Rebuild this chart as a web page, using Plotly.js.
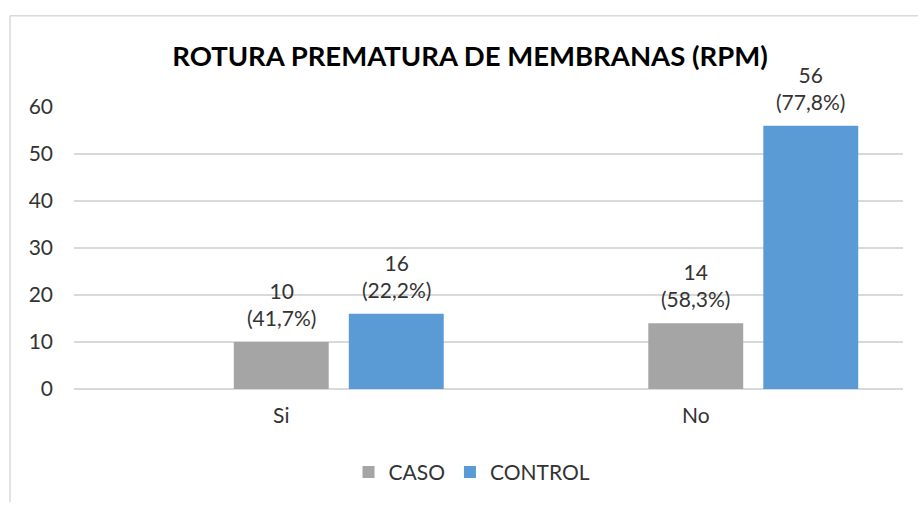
<!DOCTYPE html>
<html>
<head>
<meta charset="utf-8">
<script src="https://cdn.plot.ly/plotly-3.0.1.min.js"></script>
<style>html,body{margin:0;padding:0;background:#fff;}#chart{width:918px;height:505px;}</style>
</head>
<body>
<div id="chart"></div>
<script>
// Data
const categories = ['Si', 'No'];
const seriesNames = ['CASO', 'CONTROL'];
const casoValues = [10, 14];
const controlValues = [16, 56];
const casoPct = ['41,7%', '58,3%'];
const controlPct = ['22,2%', '77,8%'];
const yTicks = [0, 10, 20, 30, 40, 50, 60];

const FONT = 'Lato, "Open Sans", sans-serif';
const TXT = '#333333';
const barWidth = 0.229;
const casoCenter = 0.0;
const controlCenter = 0.2775;

const traces = [
  {type: 'bar', name: seriesNames[0], x: categories, y: casoValues,
   width: barWidth, offset: casoCenter - barWidth / 2,
   marker: {color: '#A5A5A5'}, hoverinfo: 'y'},
  {type: 'bar', name: seriesNames[1], x: categories, y: controlValues,
   width: barWidth, offset: controlCenter - barWidth / 2,
   marker: {color: '#5B9BD5'}, hoverinfo: 'y'}
];

const annotations = [];
[[casoValues, casoPct, casoCenter], [controlValues, controlPct, controlCenter]].forEach(([vals, pcts, c]) => {
  vals.forEach((v, i) => {
    annotations.push({
      x: i + c, y: v, xref: 'x', yref: 'y',
      text: v + '<br>(' + pcts[i] + ')',
      showarrow: false, yanchor: 'bottom', xanchor: 'center', yshift: 10,
      font: {family: FONT, size: 21, color: TXT}
    });
  });
});

const L = 74, R = 15, T = 107, B = 114, W = 918, H = 505;
const pw = W - L - R, ph = H - T - B;
const px2x = p => (p - L) / pw;
const py2y = p => (H - B - p) / ph;

const layout = {
  width: W, height: H,
  margin: {l: L, r: R, t: T, b: B, pad: 0},
  paper_bgcolor: '#ffffff', plot_bgcolor: '#ffffff',
  barmode: 'overlay',
  font: {family: FONT, size: 21, color: TXT},
  title: {
    text: '<b>ROTURA PREMATURA DE MEMBRANAS (RPM)</b>',
    font: {family: FONT, size: 27.5, color: '#000000'},
    xref: 'container', yref: 'container',
    x: 470 / W, y: 1 - 56 / H, xanchor: 'center', yanchor: 'middle'
  },
  xaxis: {
    type: 'category', range: [-0.5, 1.5],
    showgrid: false, zeroline: false, showline: false, ticks: '',
    ticklabelstandoff: 12,
    tickfont: {family: FONT, size: 21, color: TXT}
  },
  yaxis: {
    range: [0, 60], tickvals: yTicks,
    showgrid: true, gridcolor: '#D9D9D9', gridwidth: 1.5,
    zeroline: true, zerolinecolor: '#D9D9D9', zerolinewidth: 1.5,
    showline: false, ticks: '', ticklabelstandoff: 20,
    tickfont: {family: FONT, size: 21, color: TXT}
  },
  showlegend: true,
  legend: {
    orientation: 'h', x: px2x(472), y: py2y(475), xanchor: 'center', yanchor: 'middle',
    font: {family: FONT, size: 21, color: TXT}, itemwidth: 30, traceorder: 'normal'
  },
  annotations: annotations,
  shapes: [
    {type: 'line', xref: 'paper', yref: 'paper', x0: px2x(10), x1: px2x(918), y0: py2y(15), y1: py2y(15),
     line: {color: '#D9D9D9', width: 1.5}},
    {type: 'line', xref: 'paper', yref: 'paper', x0: px2x(10), x1: px2x(10), y0: py2y(15), y1: py2y(505),
     line: {color: '#D9D9D9', width: 1.5}}
  ]
};

Plotly.newPlot('chart', traces, layout, {displayModeBar: false, staticPlot: true});
</script>
</body>
</html>
